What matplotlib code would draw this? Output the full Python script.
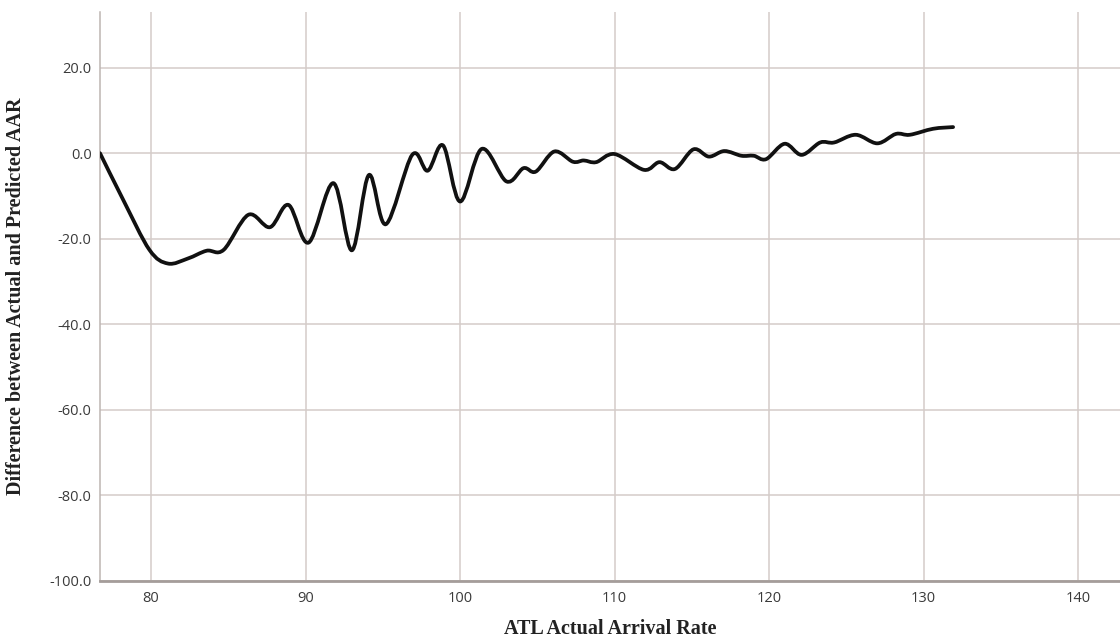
import matplotlib.pyplot as plt
import numpy as np
from matplotlib.path import Path
from matplotlib.patches import PathPatch

# values
arrival_rate = [76.7, 78.2, 79.9, 81.1, 82.4, 83.6, 84.7, 86.3, 87.7, 88.9,
                90.2, 91.8, 93.0, 94.1, 95.2, 96.9, 97.9, 98.9, 100.0, 101.4,
                103.0, 104.1, 104.9, 106.1, 107.3, 108.0, 108.8, 110.0, 111.9, 112.9,
                113.9, 115.1, 116.1, 117.1, 118.2, 119.0, 119.8, 121.0, 122.1, 123.3,
                124.2, 125.6, 127.0, 128.2, 129.1, 130.6, 131.9]
difference = [0.0, -10.9, -22.6, -25.8, -24.6, -22.8, -22.6, -14.4, -17.3, -12.1,
              -20.9, -7.0, -22.7, -5.1, -16.6, -0.4, -4.1, 1.8, -11.3, 1.0,
              -6.6, -3.5, -4.3, 0.4, -2.0, -1.7, -2.1, -0.2, -3.9, -2.1,
              -3.7, 0.9, -0.8, 0.5, -0.6, -0.6, -1.4, 2.2, -0.4, 2.5,
              2.5, 4.3, 2.3, 4.5, 4.3, 5.7, 6.1]

x_ticks = [80, 90, 100, 110, 120, 130, 140]
y_ticks = [-100, -80, -60, -40, -20, 0, 20]


def smooth_path(x, y):
    # catmull-rom through the points, drawn as bezier segments
    pts = np.column_stack([x, y])
    verts = [pts[0]]
    codes = [Path.MOVETO]
    n = len(pts)
    for i in range(n - 1):
        p0 = pts[max(i - 1, 0)]
        p1 = pts[i]
        p2 = pts[i + 1]
        p3 = pts[min(i + 2, n - 1)]
        c1 = p1 + (p2 - p0) / 6.0
        c2 = p2 - (p3 - p1) / 6.0
        verts += [c1, c2, p2]
        codes += [Path.CURVE4] * 3
    return Path(verts, codes)


fig = plt.figure(figsize=(11.2, 6.43), dpi=100)
ax = fig.add_axes([100 / 1120, 62 / 643, 1020 / 1120, 569 / 643])

ax.add_patch(PathPatch(smooth_path(arrival_rate, difference), fill=False,
                       edgecolor='#111111', linewidth=2.7, capstyle='round', joinstyle='round', zorder=3))

ax.set_xlim(76.7, 142.7)
ax.set_ylim(-100, 33)
ax.set_xticks(x_ticks)
ax.set_yticks(y_ticks)
ax.set_yticklabels(['%.1f' % v for v in y_ticks])
ax.grid(True, color='#d4ccc9', linewidth=1.1)
ax.set_axisbelow(True)

for s in ['top', 'right']:
    ax.spines[s].set_visible(False)
ax.spines['left'].set_color('#bdb5b2')
ax.spines['left'].set_linewidth(1.1)
ax.spines['bottom'].set_color('#a59d9a')
ax.spines['bottom'].set_linewidth(2)

ax.tick_params(length=0, labelsize=10.5, labelcolor='#3a3a3a')
ax.tick_params(axis='y', pad=6)
ax.tick_params(axis='x', pad=7)
for lab in ax.get_xticklabels() + ax.get_yticklabels():
    lab.set_family('Open Sans')

ax.set_xlabel('ATL Actual Arrival Rate', family='Liberation Serif', fontweight='bold', fontsize=14.5, color='#222222')
ax.set_ylabel('Difference between Actual and Predicted AAR', family='Liberation Serif', fontweight='bold',
              fontsize=14.5, color='#222222')
ax.xaxis.set_label_coords(0.5, -0.066)
ax.yaxis.set_label_coords(-0.073, 0.5)

fig.savefig('out.png', dpi=100)
